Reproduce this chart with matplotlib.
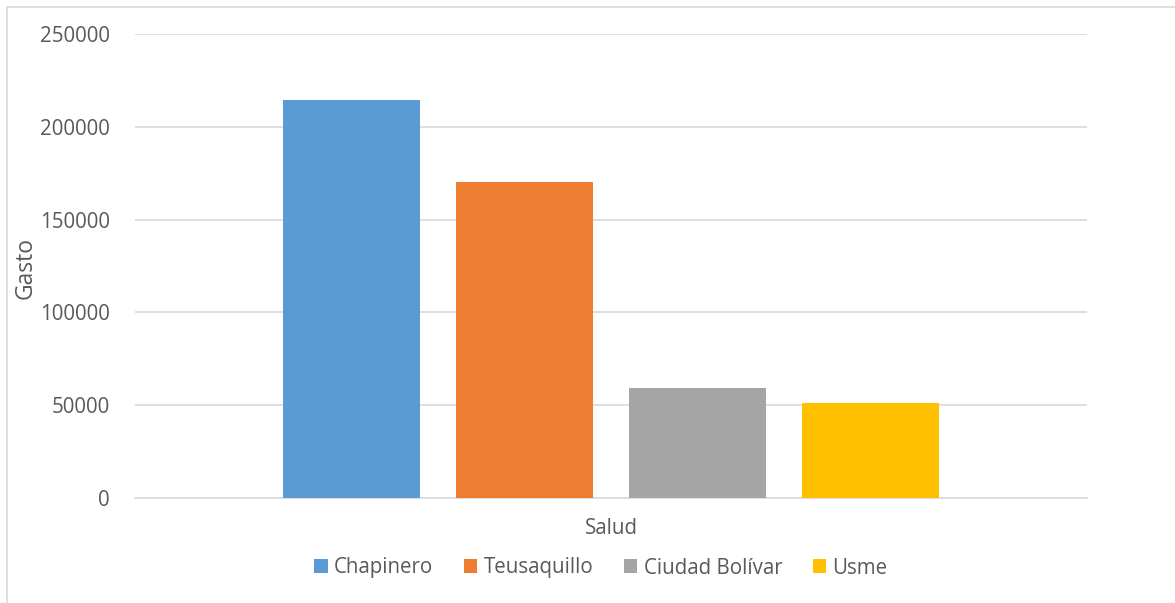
import matplotlib
matplotlib.use('Agg')
import matplotlib.pyplot as plt
import matplotlib.patches as patches

categoria = 'Salud'
localidades = ['Chapinero', 'Teusaquillo', 'Ciudad Bolívar', 'Usme']
gasto = [214700, 170400, 59200, 51100]
colores = ['#5B9BD5', '#ED7D31', '#A5A5A5', '#FFC000']
yticks = [0, 50000, 100000, 150000, 200000, 250000]

text_color = '#595959'
grid_color = '#D9D9D9'

plt.rcParams['font.family'] = ['Open Sans', 'DejaVu Sans']

W, H = 1175, 603
fig = plt.figure(figsize=(W / 100, H / 100), dpi=100)
ax = fig.add_axes([135 / W, 1 - 497.5 / H, (1087 - 135) / W, (497.5 - 34.3) / H])

# outer chart border (Excel style)
fig.patches.append(patches.Rectangle((7 / W, -0.05), 1.2, 1 - 7 / H + 0.05,
                                     transform=fig.transFigure, fill=False,
                                     edgecolor='#D9D9D9', lw=1.2))

step = 173 / 952
width = 137 / 952
for i, (nombre, valor, c) in enumerate(zip(localidades, gasto, colores)):
    ax.bar((i - 1.5) * step, valor, width=width, color=c, label=nombre, zorder=3)

ax.set_xlim(-0.5, 0.5)
ax.set_ylim(0, 250000)
ax.set_yticks(yticks)
ax.set_yticklabels([str(t) for t in yticks])
ax.set_xticks([0])
ax.set_xticklabels([categoria])
ax.tick_params(axis='both', length=0, labelsize=14.8, colors=text_color)
ax.tick_params(axis='y', pad=18)
ax.tick_params(axis='x', pad=15)

ax.grid(axis='y', color=grid_color, lw=1.2, zorder=0)
for s in ['top', 'right', 'left']:
    ax.spines[s].set_visible(False)
ax.spines['bottom'].set_color(grid_color)
ax.spines['bottom'].set_linewidth(1.2)

ax.set_ylabel('Gasto', fontsize=16.5, color=text_color)
ax.yaxis.set_label_coords(-97 / 952, 0.495)

fig.legend(loc='center', bbox_to_anchor=(601 / W, 1 - 568 / H), ncol=4,
           frameon=False, fontsize=14.8, labelcolor=text_color,
           handlelength=0.65, handleheight=0.65, handletextpad=0.3,
           columnspacing=1.5)

fig.savefig('out.png', dpi=100, facecolor='white')
